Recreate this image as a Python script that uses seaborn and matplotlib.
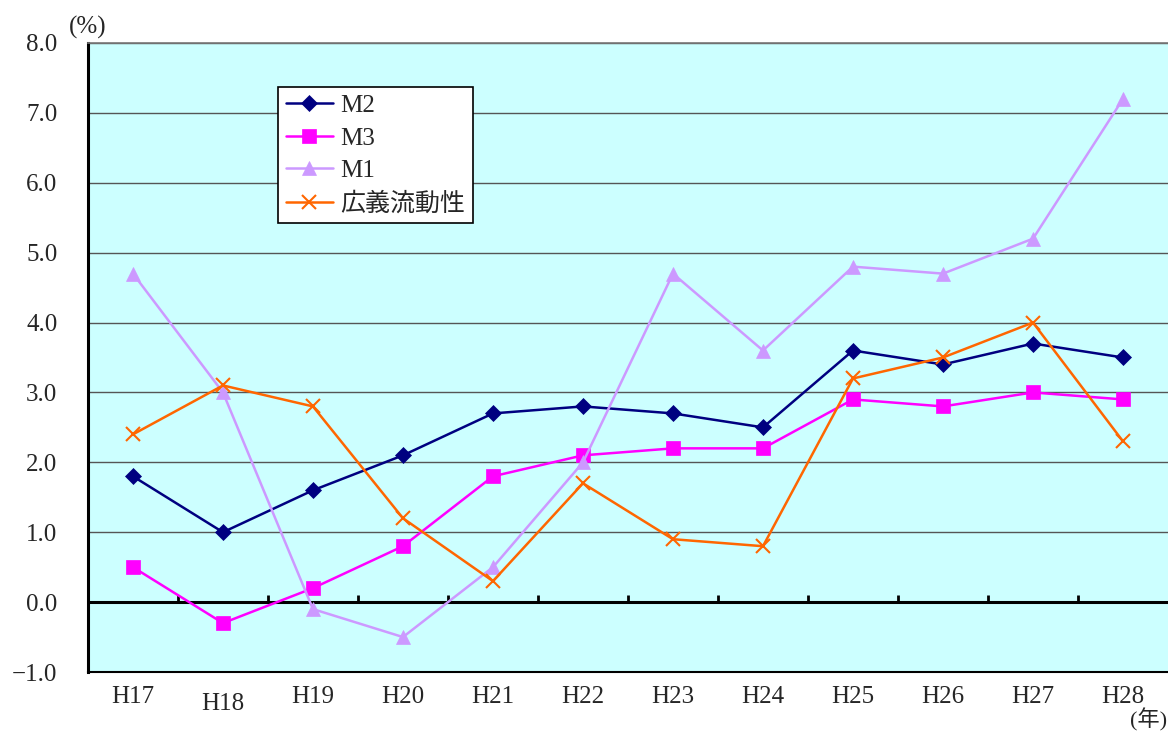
import numpy as np
import pandas as pd
import matplotlib
matplotlib.use('Agg')
import matplotlib.pyplot as plt
import seaborn as sns

# Data
years = ['H17', 'H18', 'H19', 'H20', 'H21', 'H22', 'H23', 'H24', 'H25', 'H26', 'H27', 'H28']
m2 = [1.8, 1.0, 1.6, 2.1, 2.7, 2.8, 2.7, 2.5, 3.6, 3.4, 3.7, 3.5]
m3 = [0.5, -0.3, 0.2, 0.8, 1.8, 2.1, 2.2, 2.2, 2.9, 2.8, 3.0, 2.9]
m1 = [4.7, 3.0, -0.1, -0.5, 0.5, 2.0, 4.7, 3.6, 4.8, 4.7, 5.2, 7.2]
liquidity = [2.4, 3.1, 2.8, 1.2, 0.3, 1.7, 0.9, 0.8, 3.2, 3.5, 4.0, 2.3]
yticks = [-1.0, 0.0, 1.0, 2.0, 3.0, 4.0, 5.0, 6.0, 7.0, 8.0]

sns.set_style('white')
plt.rcParams['font.family'] = ['Liberation Serif', 'Noto Sans CJK JP']
plt.rcParams['axes.unicode_minus'] = True

fig = plt.figure(figsize=(11.68, 7.31), dpi=100)
ax = fig.add_axes([0.0753, 0.0807, 0.9247, 0.8605])
ax.set_facecolor('#CCFFFF')

x = np.arange(len(years))
series = [
    ('M2', m2, '#000080', 'D', 8),
    ('M3', m3, '#FF00FF', 's', 10),
    ('M1', m1, '#CC99FF', '^', 10),
    ('広義流動性', liquidity, '#FF6600', 'x', 10),
]
for name, vals, col, mk, ms in series:
    df = pd.DataFrame({'x': x, 'y': vals})
    sns.lineplot(data=df, x='x', y='y', ax=ax, color=col, marker=mk,
                 markersize=ms, linewidth=1.8, label=name,
                 markeredgecolor=col, markeredgewidth=1.5 if mk == 'x' else 0.5,
                 zorder=3)

# grid and axis styling
ax.set_ylim(-1, 8)
ax.set_xlim(-0.5, len(years) - 0.5)
ax.set_yticks(yticks)
ax.set_yticklabels([f'{v:.1f}'.replace('-', '\u2212') for v in yticks], fontsize=18)
for v in yticks[2:]:
    ax.axhline(v, color='#555555', linewidth=1.0, zorder=1)
ax.axhline(0, color='black', linewidth=2.2, zorder=2)
ax.vlines(np.arange(0.5, len(years) - 0.5), 0, 0.1, color='black', linewidth=2, zorder=2)

ax.set_xticks(x)
ax.set_xticklabels(years, fontsize=18)
ax.tick_params(axis='x', length=0, pad=10)
ax.tick_params(axis='y', direction='in', length=6, width=2, pad=22)
ax.get_xticklabels()[1].set_y(-0.012)

ax.spines['left'].set_linewidth(2.2)
ax.spines['left'].set_color('black')
ax.spines['bottom'].set_linewidth(1.5)
ax.spines['bottom'].set_color('black')
ax.spines['top'].set_color('#777777')
ax.spines['top'].set_linewidth(1.2)
ax.spines['right'].set_visible(False)
ax.set_xlabel('')
ax.set_ylabel('')

ax.text(-0.5, 8.05, '(%)', fontsize=18, ha='center', va='bottom')
fig.text(0.9995, 0.0, '(年)', fontsize=16, ha='right', va='bottom')

leg = ax.legend(loc='upper left', bbox_to_anchor=(0.176, 0.930), fontsize=18,
                frameon=True, fancybox=False, edgecolor='black', facecolor='white',
                framealpha=1, borderpad=0.3, labelspacing=0.4, handlelength=1.9,
                handletextpad=0.3, borderaxespad=0)
leg.get_frame().set_linewidth(1.2)

plt.savefig('out.png', dpi=100)
